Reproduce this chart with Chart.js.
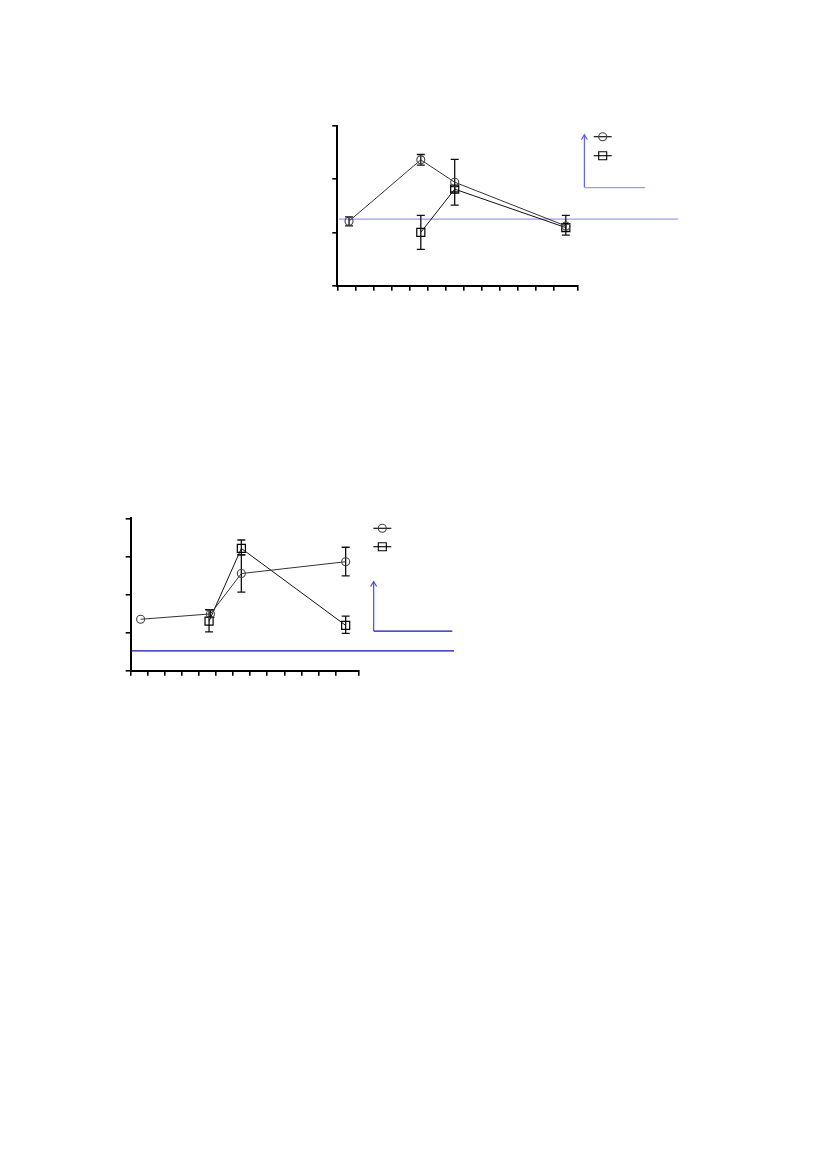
<!DOCTYPE html>
<html>
<head>
<meta charset="utf-8">
<script src="https://cdn.jsdelivr.net/npm/chart.js@4.4.0/dist/chart.umd.min.js"></script>
<style>
  html, body { margin: 0; padding: 0; background: #fff; }
  body { width: 826px; height: 1169px; position: relative; overflow: hidden; }
  canvas { position: absolute; left: 0; }
  #chartTop { top: 0; }
  #chartBottom { top: 420px; }
</style>
</head>
<body>
<canvas id="chartTop" width="826" height="400" style="width:826px;height:400px"></canvas>
<canvas id="chartBottom" width="826" height="330" style="width:826px;height:330px"></canvas>
<script>
// Top chart values
const topCircleX = [0.65, 4.63, 6.51, 12.67];
const topCircleY = [1.21, 2.36, 1.94, 1.12];
const topCircleLow = [1.12, 2.26, 1.51, 0.95];
const topCircleHigh = [1.29, 2.46, 2.37, 1.32];
const topSquareX = [4.63, 6.51, 12.67];
const topSquareY = [1.00, 1.81, 1.09];
const topSquareLow = [0.68, 1.76, 1.02];
const topSquareHigh = [1.32, 1.86, 1.16];
const topRefLine = [1.25, 0.1, 18.9];      // y, x from, x to
const topArrow = [13.7, 2.83, 1.84, 17.07]; // x, y top, y corner, x end

// Bottom chart values
const botCircleX = [0.58, 4.67, 6.48, 12.59];
const botCircleY = [1.35, 1.49, 2.55, 2.86];
const botCircleLow = [1.35, 1.40, 2.06, 2.49];
const botCircleHigh = [1.35, 1.60, 3.04, 3.24];
const botSquareX = [4.59, 6.48, 12.59];
const botSquareY = [1.30, 3.21, 1.19];
const botSquareLow = [1.02, 3.04, 0.98];
const botSquareHigh = [1.60, 3.43, 1.43];
const botRefLine = [0.52, 0.0, 18.94];
const botArrow = [14.23, 2.34, 1.04, 18.84];

function toPoints(xs, ys) {
    return xs.map((x, i) => ({ x: x, y: ys[i] }));
}

// Draw error bars, reference line, arrow and the little legend
const extrasPlugin = {
    id: 'extras',
    beforeDatasetsDraw(chart) {
        const ctx = chart.ctx;
        const xs = chart.scales.x;
        const ys = chart.scales.y;
        const ex = chart.options.plugins.extras;

        ctx.save();
        // reference line
        ctx.strokeStyle = ex.refColor;
        ctx.lineWidth = ex.refWidth;
        ctx.beginPath();
        ctx.moveTo(xs.getPixelForValue(ex.ref[1]), ys.getPixelForValue(ex.ref[0]));
        ctx.lineTo(xs.getPixelForValue(ex.ref[2]), ys.getPixelForValue(ex.ref[0]));
        ctx.stroke();

        // arrow
        const ax = xs.getPixelForValue(ex.arrow[0]);
        const ayTop = ys.getPixelForValue(ex.arrow[1]);
        const ayCorner = ys.getPixelForValue(ex.arrow[2]);
        const axEnd = xs.getPixelForValue(ex.arrow[3]);
        ctx.lineWidth = 1.2;
        ctx.strokeStyle = ex.arrowColor;
        ctx.beginPath();
        ctx.moveTo(ax, ayTop);
        ctx.lineTo(ax, ayCorner);
        ctx.stroke();
        ctx.beginPath();
        ctx.moveTo(ax - 3, ayTop + 5);
        ctx.lineTo(ax, ayTop);
        ctx.lineTo(ax + 3, ayTop + 5);
        ctx.stroke();
        ctx.strokeStyle = ex.cornerColor;
        ctx.lineWidth = ex.cornerWidth;
        ctx.beginPath();
        ctx.moveTo(ax, ayCorner);
        ctx.lineTo(axEnd, ayCorner);
        ctx.stroke();

        // error bars
        ctx.strokeStyle = '#111';
        ctx.lineWidth = 1.3;
        chart.data.datasets.forEach(ds => {
            ds.data.forEach((p, i) => {
                const px = xs.getPixelForValue(p.x);
                const lo = ys.getPixelForValue(ds.errLow[i]);
                const hi = ys.getPixelForValue(ds.errHigh[i]);
                if (Math.abs(lo - hi) < 1) return;
                ctx.beginPath();
                ctx.moveTo(px, lo);
                ctx.lineTo(px, hi);
                ctx.moveTo(px - 4, lo);
                ctx.lineTo(px + 4, lo);
                ctx.moveTo(px - 4, hi);
                ctx.lineTo(px + 4, hi);
                ctx.stroke();
            });
        });
        ctx.restore();
    },
    afterDraw(chart) {
        const ctx = chart.ctx;
        const area = chart.chartArea;
        const ex = chart.options.plugins.extras;
        const cx = area.right + ex.legendDx;
        ctx.save();
        chart.data.datasets.forEach((ds, i) => {
            const cy = area.top + ex.legendDy + i * ex.legendGap;
            ctx.strokeStyle = '#111';
            ctx.lineWidth = 1.2;
            ctx.beginPath();
            ctx.moveTo(cx - 9, cy);
            ctx.lineTo(cx + 9, cy);
            ctx.stroke();
            ctx.strokeStyle = ds.pointBorderColor;
            ctx.lineWidth = 1.1;
            ctx.beginPath();
            if (ds.pointStyle === 'rect') {
                ctx.rect(cx - 4, cy - 4, 8, 8);
            } else {
                ctx.arc(cx, cy, 4, 0, Math.PI * 2);
            }
            ctx.stroke();
        });
        ctx.restore();
    }
};

function makeChart(id, circle, square, yMax, padding, extras) {
    const axisBase = {
        type: 'linear',
        min: 0,
        border: { display: true, color: '#000', width: 2 },
        grid: { drawOnChartArea: false, drawTicks: true, tickLength: 5, color: '#000', lineWidth: 1.6 },
        ticks: { display: false, stepSize: 1 }
    };
    return new Chart(document.getElementById(id), {
        type: 'scatter',
        data: {
            datasets: [
                {
                    data: toPoints(circle.x, circle.y),
                    errLow: circle.low,
                    errHigh: circle.high,
                    showLine: true,
                    borderColor: '#333',
                    borderWidth: 1,
                    pointStyle: 'circle',
                    pointRadius: 4,
                    pointBackgroundColor: 'rgba(255,255,255,0)',
                    pointBorderColor: '#444',
                    pointBorderWidth: 1.1
                },
                {
                    data: toPoints(square.x, square.y),
                    errLow: square.low,
                    errHigh: square.high,
                    showLine: true,
                    borderColor: '#111',
                    borderWidth: 1,
                    pointStyle: 'rect',
                    pointRadius: 5.7,
                    pointBackgroundColor: 'rgba(255,255,255,0)',
                    pointBorderColor: '#000',
                    pointBorderWidth: 1.2
                }
            ]
        },
        options: {
            responsive: false,
            animation: false,
            devicePixelRatio: 1,
            layout: { padding: padding },
            scales: {
                x: Object.assign({}, axisBase, { max: 13.33 }),
                y: Object.assign({}, axisBase, { max: yMax })
            },
            plugins: {
                legend: { display: false },
                tooltip: { enabled: false },
                extras: extras
            }
        },
        plugins: [extrasPlugin]
    });
}

makeChart('chartTop',
    { x: topCircleX, y: topCircleY, low: topCircleLow, high: topCircleHigh },
    { x: topSquareX, y: topSquareY, low: topSquareLow, high: topSquareHigh },
    3,
    { left: 332.3, right: 248.3, top: 125.7, bottom: 109.3 },
    { ref: topRefLine, refColor: '#9a9af4', refWidth: 1.3,
      arrow: topArrow, arrowColor: '#6060ea', cornerColor: '#9a9af0', cornerWidth: 1.3,
      legendDx: 25, legendDy: 11, legendGap: 19 });

makeChart('chartBottom',
    { x: botCircleX, y: botCircleY, low: botCircleLow, high: botCircleHigh },
    { x: botSquareX, y: botSquareY, low: botSquareLow, high: botSquareHigh },
    4,
    { left: 125.7, right: 467.7, top: 98.3, bottom: 74.3 },
    { ref: botRefLine, refColor: '#1010b4', refWidth: 1.2,
      arrow: botArrow, arrowColor: '#4a4aee', cornerColor: '#1010c0', cornerWidth: 1.2,
      legendDx: 24, legendDy: 10, legendGap: 18.4 });
</script>
</body>
</html>
